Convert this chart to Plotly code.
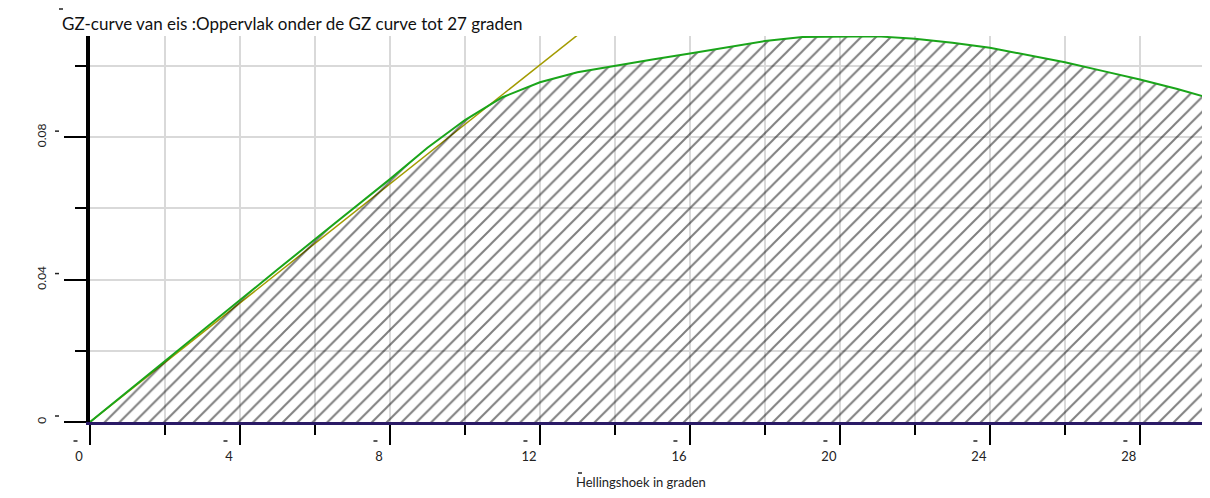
import plotly.graph_objects as go

# ---- data ----
angle_deg = [0, 1, 2, 3, 4, 5, 6, 7, 8, 9, 10, 11, 12, 13, 14, 15, 16, 17, 18,
             19, 20, 21, 22, 23, 24, 25, 26, 27, 28, 29, 29.87]
gz_m = [0, 0.0086, 0.0172, 0.0258, 0.0343, 0.0428, 0.0513, 0.0598, 0.0682,
        0.0770, 0.0848, 0.0912, 0.0954, 0.0982, 0.1001, 0.1018, 0.1035, 0.1053,
        0.1070, 0.1081, 0.1083, 0.1083, 0.1076, 0.1065, 0.1051, 0.1031, 0.1010,
        0.0986, 0.0962, 0.0935, 0.0909]
tangent_x = [0, 14]
tangent_y = [0, 0.1170]

x_tickvals = [0, 4, 8, 12, 16, 20, 24, 28]
x_ticktext = ["0", "4", "8", "12", "16", "20", "24", "28"]
y_tickvals = [0, 0.04, 0.08]
y_ticktext = ["0", "0.04", "0.08"]

title_text = "GZ-curve van eis :Oppervlak onder de GZ curve tot 27 graden"
xtitle_text = "Hellingshoek in graden"

FONT = "Lato"
X_MAX = 29.87
Y_MAX = 0.1084
PLOT_W = 1120.0   # plot area width in px
PLOT_H = 386.0    # plot area height in px

fig = go.Figure()

fig.add_trace(go.Scatter(
    x=tangent_x, y=tangent_y, mode="lines",
    line=dict(color="#a39b00", width=1.5),
    hoverinfo="skip", showlegend=False))

fig.add_trace(go.Scatter(
    x=angle_deg, y=gz_m, mode="lines",
    line=dict(color="#1aa51a", width=2),
    fill="tozeroy", fillcolor="rgba(0,0,0,0)",
    fillpattern=dict(shape="/", size=10.5, solidity=0.19,
                     fgcolor="#000000", bgcolor="rgba(0,0,0,0)"),
    showlegend=False))

# small dash marks that sit beside the labels in the reference
dash_shapes = []
def dash(xp, yp, w=4.0):
    dash_shapes.append(dict(type="line", xref="paper", yref="paper",
                            x0=xp, x1=xp + w / PLOT_W, y0=yp, y1=yp,
                            line=dict(color="#222222", width=1.5)))

for v in x_tickvals:
    dash(v / X_MAX - 16.5 / PLOT_W, -19.0 / PLOT_H)
for v in y_tickvals:
    dash(-35.0 / PLOT_W, v / Y_MAX + 6.0 / PLOT_H)
dash(-31.0 / PLOT_W, 1 + 27.0 / PLOT_H)          # above title
dash(488.0 / PLOT_W, -51.0 / PLOT_H)             # above x-axis title

# page body has an 8px margin -> figure is 8px smaller and margins shifted
fig.update_layout(
    width=1202, height=490,
    margin=dict(l=82, r=0, t=28, b=76),
    paper_bgcolor="white", plot_bgcolor="white",
    font=dict(family=FONT, color="#222222"),
    showlegend=False,
    shapes=dash_shapes,
    annotations=[
        dict(text=title_text, xref="paper", yref="paper", x=-0.027, y=1.0,
             xanchor="left", yanchor="bottom", yshift=0, showarrow=False,
             font=dict(family=FONT, size=17, color="#111111")),
        dict(text=xtitle_text, xref="paper", yref="paper", x=0.492, y=0,
             xanchor="center", yanchor="top", yshift=-50, showarrow=False,
             font=dict(family=FONT, size=13, color="#222222")),
    ],
)

fig.update_xaxes(
    range=[0, X_MAX], tickvals=x_tickvals, ticktext=x_ticktext,
    ticks="outside", ticklen=20, tickwidth=1.5, tickcolor="black",
    ticklabelshift=-11,
    tickfont=dict(family=FONT, size=13, color="#222222"),
    showgrid=True, gridcolor="#d9d9d9", gridwidth=1.5,
    minor=dict(dtick=2, tick0=0, ticks="outside", ticklen=10, tickwidth=1.5,
               tickcolor="black", showgrid=True, gridcolor="#d9d9d9", gridwidth=1.5),
    showline=True, linecolor="#2a1a66", linewidth=3,
    zeroline=False, fixedrange=True,
)

fig.update_yaxes(
    range=[0, Y_MAX], tickvals=y_tickvals, ticktext=y_ticktext,
    ticks="outside", ticklen=22, tickwidth=1.5, tickcolor="black",
    tickangle=-90, ticklabelstandoff=13,
    tickfont=dict(family=FONT, size=12, color="#222222"),
    showgrid=True, gridcolor="#d9d9d9", gridwidth=1.5,
    minor=dict(dtick=0.02, tick0=0, ticks="outside", ticklen=11, tickwidth=1.5,
               tickcolor="black", showgrid=True, gridcolor="#d9d9d9", gridwidth=1.5),
    showline=True, linecolor="black", linewidth=4,
    zeroline=False, fixedrange=True,
)

fig.write_html("out.html")
